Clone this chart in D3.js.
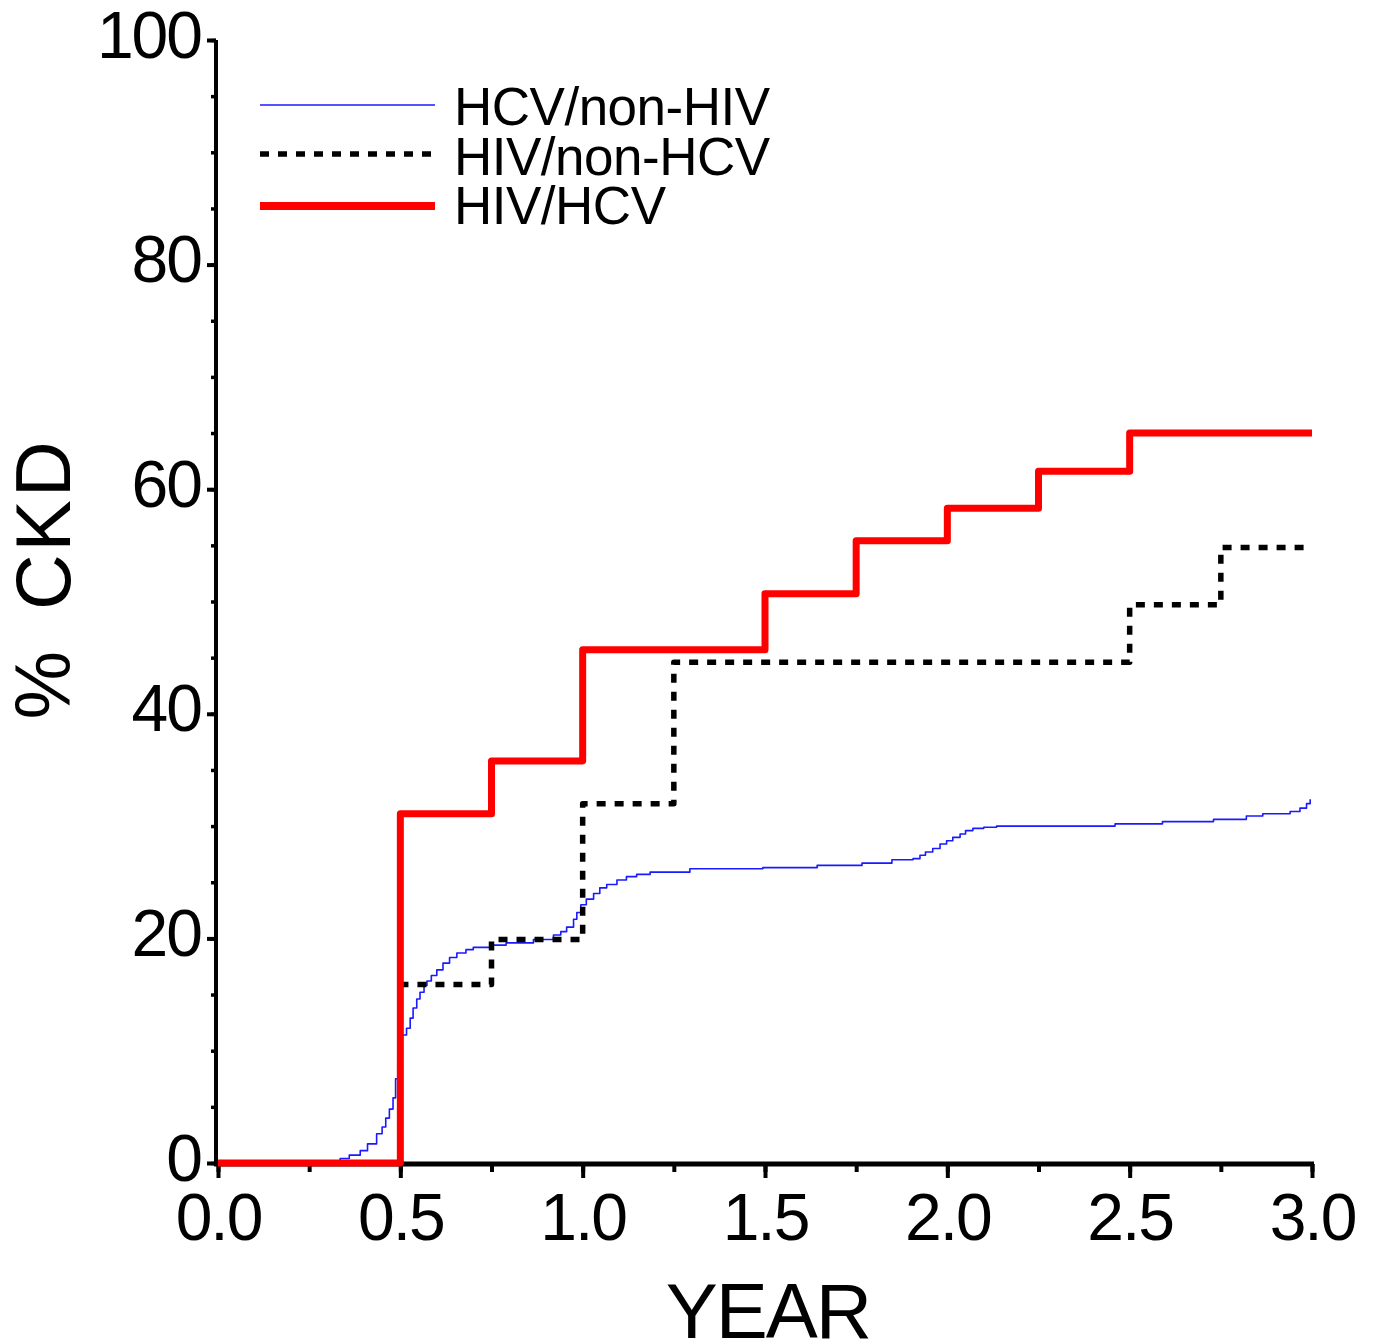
<!DOCTYPE html>
<html>
<head>
<meta charset="utf-8">
<script src="https://cdn.jsdelivr.net/npm/d3@7"></script>
<style>
  html, body { margin: 0; padding: 0; background: #fff; }
  svg { display: block; }
  text { font-family: "Liberation Sans", Arial, sans-serif; fill: #000; }
</style>
</head>
<body>
<script>
// ---- data ----
const seriesNames = ["HCV/non-HIV", "HIV/non-HCV", "HIV/HCV"];
const xTicks = [0, 0.5, 1.0, 1.5, 2.0, 2.5, 3.0];
const xTickLabels = ["0.0", "0.5", "1.0", "1.5", "2.0", "2.5", "3.0"];
const yTicks = [0, 20, 40, 60, 80, 100];
const yTickLabels = ["0", "20", "40", "60", "80", "100"];

// [year, % CKD], step-after
const hcvNonHiv = [
  [0, 0], [0.27, 0.1], [0.30, 0.2], [0.335, 0.4], [0.36, 0.7], [0.39, 1.1], [0.41, 1.7],
  [0.435, 2.6], [0.45, 3.2], [0.46, 4.0], [0.47, 4.8], [0.48, 5.8], [0.487, 7.5], [0.493, 9.0],
  [0.5, 11.0], [0.505, 11.4], [0.517, 12.0], [0.527, 12.9], [0.535, 13.8], [0.545, 14.6],
  [0.554, 15.2], [0.565, 15.8], [0.573, 16.2], [0.585, 16.7], [0.6, 17.2], [0.617, 17.8],
  [0.635, 18.3], [0.655, 18.7], [0.68, 19.0], [0.7, 19.2], [0.746, 19.4], [0.79, 19.6],
  [0.865, 19.9], [0.92, 20.3], [0.94, 20.6], [0.956, 21.0], [0.975, 21.7], [0.984, 22.3],
  [0.995, 23.0], [1.01, 23.5], [1.03, 24.0], [1.047, 24.5], [1.066, 24.8], [1.094, 25.2],
  [1.12, 25.5], [1.148, 25.7], [1.185, 25.9], [1.294, 26.2], [1.494, 26.3], [1.643, 26.5],
  [1.766, 26.7], [1.848, 27.0], [1.906, 27.1], [1.925, 27.4], [1.94, 27.7], [1.96, 28.0],
  [1.98, 28.4], [1.998, 28.7], [2.015, 29.0], [2.035, 29.3], [2.05, 29.6], [2.07, 29.8],
  [2.1, 29.9], [2.135, 30.0], [2.46, 30.2], [2.59, 30.4], [2.73, 30.6], [2.82, 30.9],
  [2.865, 31.1], [2.94, 31.3], [2.967, 31.6], [2.985, 32.0], [2.995, 32.4]
];
const hivNonHcv = [
  [0, 0], [0.5, 15.9], [0.75, 19.9], [1.0, 32.0], [1.25, 44.6], [2.5, 49.7], [2.75, 54.8], [2.98, 54.8]
];
const hivHcv = [
  [0, 0], [0.5, 31.1], [0.75, 35.8], [1.0, 45.7], [1.5, 50.7], [1.75, 55.4], [2.0, 58.3],
  [2.25, 61.6], [2.5, 65.0], [3.0, 65.0]
];

// ---- drawing ----
const W = 1374, H = 1344;
const svg = d3.select("body").append("svg").attr("width", W).attr("height", H);
svg.append("rect").attr("width", W).attr("height", H).attr("fill", "#fff");

const x = d3.scaleLinear().domain([0, 3]).range([218, 1312]);
const y = d3.scaleLinear().domain([0, 100]).range([1163, 40]);

const axisX0 = 216; // y-axis position
const axisY0 = 1164; // x-axis position

// minor y ticks
svg.append("g").attr("transform", `translate(${axisX0},0)`)
  .call(d3.axisLeft(y).tickValues(d3.range(0, 101, 5)).tickSize(5).tickSizeOuter(0).tickFormat(""))
  .call(g => g.select(".domain").remove())
  .call(g => g.selectAll("line").attr("stroke", "#000").attr("stroke-width", 3.5));
// major y ticks
const gy = svg.append("g").attr("transform", `translate(${axisX0},0)`)
  .call(d3.axisLeft(y).tickValues(yTicks).tickSize(9).tickSizeOuter(0)
    .tickFormat((d, i) => yTickLabels[i]));
gy.select(".domain").attr("stroke", "#000").attr("stroke-width", 4).attr("d", `M0,${y(100)}V${axisY0}`);
gy.selectAll("line").attr("stroke", "#000").attr("stroke-width", 4);
gy.selectAll("text").attr("x", -15).attr("dy", "0.26em")
  .style("font-size", "66px").style("letter-spacing", "-2px");

// minor x ticks
svg.append("g").attr("transform", `translate(0,${axisY0})`)
  .call(d3.axisBottom(x).tickValues(d3.range(0, 3.01, 0.25)).tickSize(8).tickSizeOuter(0).tickFormat(""))
  .call(g => g.select(".domain").remove())
  .call(g => g.selectAll("line").attr("stroke", "#000").attr("stroke-width", 4));
const gx = svg.append("g").attr("transform", `translate(0,${axisY0})`)
  .call(d3.axisBottom(x).tickValues(xTicks).tickSize(14).tickSizeOuter(0)
    .tickFormat((d, i) => xTickLabels[i]));
gx.select(".domain").attr("stroke", "#000").attr("stroke-width", 5).attr("d", `M${axisX0 - 2},0H${x(3) + 2}`);
gx.selectAll("line").attr("stroke", "#000").attr("stroke-width", 4);
gx.selectAll("text").attr("y", 76).attr("dy", null)
  .style("font-size", "66px").style("letter-spacing", "-2px");

// axis titles
svg.append("text").attr("x", 768).attr("y", 1338).attr("text-anchor", "middle")
  .style("font-size", "78px").style("letter-spacing", "-2px").text("YEAR");
const yTitle = svg.append("text").attr("transform", "translate(70,579) rotate(-90)").attr("text-anchor", "middle")
  .style("font-size", "77px").style("letter-spacing", "3px");
yTitle.append("tspan").text("%");
yTitle.append("tspan").attr("dx", 38).text("CKD");

// lines
const line = d3.line().x(d => x(d[0])).y(d => y(d[1])).curve(d3.curveStepAfter);
const styles = [
  { color: "#1a1aff", width: 1.6, dash: null },
  { color: "#000", width: 5.5, dash: "9,9" },
  { color: "#ff0000", width: 7, dash: null }
];
const allSeries = [hcvNonHiv, hivNonHcv, hivHcv];
allSeries.forEach((s, i) => {
  svg.append("path").datum(s).attr("d", line).attr("fill", "none")
    .attr("stroke", styles[i].color).attr("stroke-width", styles[i].width)
    .attr("stroke-dasharray", styles[i].dash)
    .attr("stroke-linejoin", "round");
});

// legend
const legY = [105, 154, 206];
const legTextY = [125, 175, 224];
seriesNames.forEach((name, i) => {
  svg.append("line").attr("x1", 260).attr("x2", 435).attr("y1", legY[i]).attr("y2", legY[i])
    .attr("stroke", styles[i].color).attr("stroke-width", styles[i].width === 7 ? 8 : styles[i].width)
    .attr("stroke-dasharray", styles[i].dash);
  svg.append("text").attr("x", 454).attr("y", legTextY[i])
    .style("font-size", "53px").style("letter-spacing", "-0.5px").text(name);
});
</script>
</body>
</html>
